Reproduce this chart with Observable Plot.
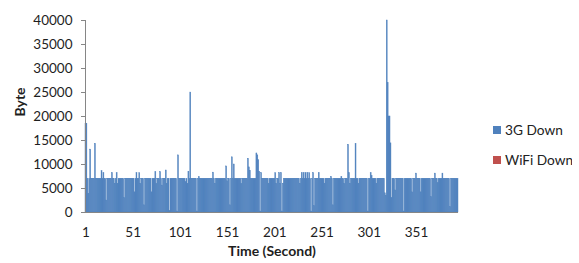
<!DOCTYPE html>
<html>
<head>
<meta charset="utf-8">
<script src="https://cdn.jsdelivr.net/npm/d3@7"></script>
<script src="https://cdn.jsdelivr.net/npm/@observablehq/plot@0.6"></script>
<style>
  html, body { margin: 0; padding: 0; background: #fff; }
  #wrap { position: relative; width: 579px; height: 263px; overflow: hidden; font-family: Lato, "DejaVu Sans", sans-serif; }
  #chart { position: absolute; left: 0; top: 0; }
  #legend { position: absolute; left: 493px; top: 120px; width: 79px; overflow: hidden; white-space: nowrap; }
  .item { position: relative; height: 30px; font-size: 13.7px; color: #222; }
  .sw { position: absolute; left: 0; top: 6px; width: 8px; height: 8px; }
  .lab { position: absolute; left: 12px; top: 0px; line-height: 20px; }
</style>
</head>
<body>
<div id="wrap">
  <div id="chart"></div>
  <div id="legend"></div>
</div>
<script>
// Series names and colours
const seriesNames = ["3G Down", "WiFi Down"];
const seriesColors = ["#4f81bd", "#c0504d"];

// 3G Down bytes per second (seconds 1..395)
const down3G = [
  18500,18500,7000,3900,7000,13100,7000,7000,7000,7000,14300,7000,7000,7000,7000,7000,7000,8600,7000,8200,
  7000,7000,2500,7000,7000,7000,7000,7000,8200,7000,7000,6000,7000,8200,6000,7000,7000,7000,7000,7000,
  7000,3000,7000,7000,7000,7000,7000,7000,7000,7000,7000,7000,4200,7000,8200,7000,7000,8200,6000,7000,
  7000,7000,1500,7000,7000,7000,7000,7000,7000,7000,4200,7000,7000,7000,8400,6000,7000,7000,7000,8400,
  7000,5600,7000,7000,7000,8750,6000,7000,7000,300,7000,7000,7000,7000,7000,7000,7000,200,11900,7000,
  7000,7000,7000,7000,7000,7000,6300,7000,6000,8500,7000,25000,7000,7000,7000,7000,7000,7000,200,7000,
  7350,7000,7000,7000,7000,7000,7000,7000,7000,7000,7000,7000,7000,7000,7000,8300,7000,6000,7000,7000,
  7000,7000,7000,7000,7000,7000,7000,7000,7000,9600,6500,7000,7000,1500,7000,11500,7000,10000,7000,7000,
  7000,7000,7000,7000,7000,6000,7000,7000,7000,7000,7000,7000,11200,9400,8700,7000,7000,7000,7000,7000,
  7000,12300,11900,10900,8500,200,8200,7000,7000,7000,7000,7000,7000,7000,6000,7000,7000,7000,7000,7000,
  7000,8200,6000,7000,7000,8200,6000,8200,200,6000,7000,7000,7000,7000,7000,7000,7000,7000,7000,7000,
  7000,7000,7000,7000,7000,7000,7000,6000,7000,8200,7000,8200,7000,8200,7000,8200,7000,8200,7000,200,
  7000,8200,1300,7000,7000,7000,7000,8200,7000,7000,7000,7000,7000,6000,7000,7000,7000,7000,7000,7000,
  7400,7000,1500,7000,7000,7000,7000,7000,7000,7000,7000,7400,7000,7000,6000,7000,7000,7000,14100,8200,
  6000,7000,7000,7000,7000,7000,14300,7000,7000,6000,7000,7000,7000,7000,7000,7000,7000,7000,7000,200,
  7000,7000,8200,7600,7000,7000,7000,7000,6000,7000,7000,7000,7000,7000,7000,7000,7000,4000,3500,40000,
  27000,20000,20000,14400,3000,7000,7000,7000,4600,7000,7000,7000,7000,7000,7000,7000,7000,200,7000,7000,
  7000,7000,7000,7000,7000,7000,4200,7000,7000,7000,8100,7000,7000,7000,7000,4200,7000,7000,7000,7000,
  7000,7000,7000,7000,7000,7000,3200,7000,7000,7000,8100,7000,7000,6100,7000,7000,7000,7000,8100,7000,
  7000,7000,7000,7000,7000,7000,1100,7000,7000,7000,7000,7000,7000,7000,7000
];

// Axis ticks and titles
const xTicks = [1, 51, 101, 151, 201, 251, 301, 351];
const yTicks = [0, 5000, 10000, 15000, 20000, 25000, 30000, 35000, 40000];
const xTitle = "Time (Second)";
const yTitle = "Byte";

const data = down3G.map((v, i) => ({t: i + 1, v}));
const n = down3G.length;

const chart = Plot.plot({
  width: 470,
  height: 263,
  marginLeft: 85,
  marginRight: 12,
  marginTop: 20,
  marginBottom: 51,
  style: {fontFamily: "Lato, 'DejaVu Sans', sans-serif", fontSize: "13.5px", color: "#1e1e1e", background: "#fff"},
  x: {domain: [0.5, n + 0.5]},
  y: {domain: [0, 40000]},
  marks: [
    Plot.rectY(data, {
      x1: d => d.t - 0.5, x2: d => d.t + 0.5, y: "v",
      fill: seriesColors[0], stroke: seriesColors[0], strokeWidth: 0.45
    }),
    Plot.ruleY([0], {stroke: "#868686", strokeWidth: 1}),
    Plot.ruleX([0.5], {stroke: "#868686", strokeWidth: 1}),
    Plot.axisY({ticks: yTicks, tickSize: 4, tickPadding: 9, tickFormat: d => String(d), stroke: "#868686", label: null}),
    Plot.axisX({ticks: xTicks, tickSize: 0, tickPadding: 15, tickFormat: d => String(d), label: null}),
    Plot.text([xTitle], {text: d => d, frameAnchor: "bottom", dy: 43, fontWeight: "bold", fontSize: 14}),
    Plot.text([yTitle], {text: d => d, frameAnchor: "left", dx: -65, rotate: -90, fontWeight: "bold", fontSize: 14})
  ]
});
document.getElementById("chart").appendChild(chart);

const legend = document.getElementById("legend");
seriesNames.forEach((name, i) => {
  const item = document.createElement("div");
  item.className = "item";
  const sw = document.createElement("div");
  sw.className = "sw";
  sw.style.background = seriesColors[i];
  const lab = document.createElement("div");
  lab.className = "lab";
  lab.textContent = name;
  item.appendChild(sw);
  item.appendChild(lab);
  legend.appendChild(item);
});
</script>
</body>
</html>
